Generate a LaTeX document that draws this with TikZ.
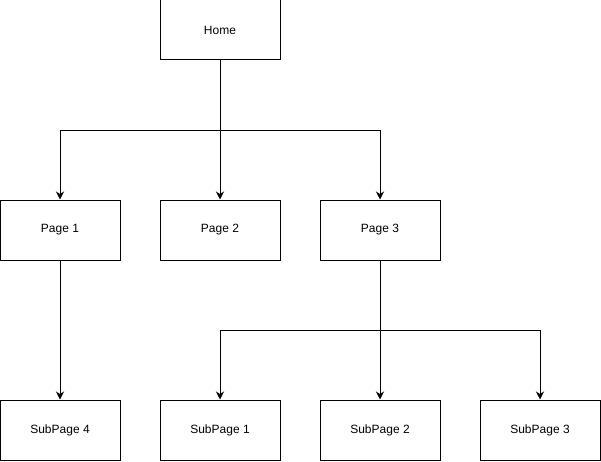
\documentclass[tikz,border=0pt]{standalone}
\usepackage{fontspec}
\setmainfont{Liberation Sans}
\usetikzlibrary{arrows.meta}
\begin{document}
\begin{tikzpicture}[x=1pt,y=-1pt,
  pagebox/.style={draw=black,line width=1pt,minimum width=120pt,minimum height=60pt,inner sep=0pt,font=\fontsize{12}{14}\selectfont},
  link/.style={draw=black,line width=1pt,-{Stealth[length=8pt,width=8pt,inset=2.5pt]}}]
\fill[white] (0,0) rectangle (601,462);
\useasboundingbox (0,0) rectangle (601,462);
% site tree
\node[pagebox] (home) at (220,30) {Home};
\node[pagebox] (p1) at (60,230) {Page 1};
\node[pagebox] (p2) at (220,230) {Page 2};
\node[pagebox] (p3) at (380,230) {Page 3};
\node[pagebox] (s4) at (60,430) {SubPage 4};
\node[pagebox] (s1) at (220,430) {SubPage 1};
\node[pagebox] (s2) at (380,430) {SubPage 2};
\node[pagebox] (s3) at (540,430) {SubPage 3};
% level one links
\draw[link] (home.south) -- (p2.north);
\draw[link] (home.south) -- ++(0,70) -| (p1.north);
\draw[link] (home.south) -- ++(0,70) -| (p3.north);
% level two links
\draw[link] (p1.south) -- (s4.north);
\draw[link] (p3.south) -- (s2.north);
\draw[link] (p3.south) -- ++(0,70) -| (s1.north);
\draw[link] (p3.south) -- ++(0,70) -| (s3.north);
\end{tikzpicture}
\end{document}
